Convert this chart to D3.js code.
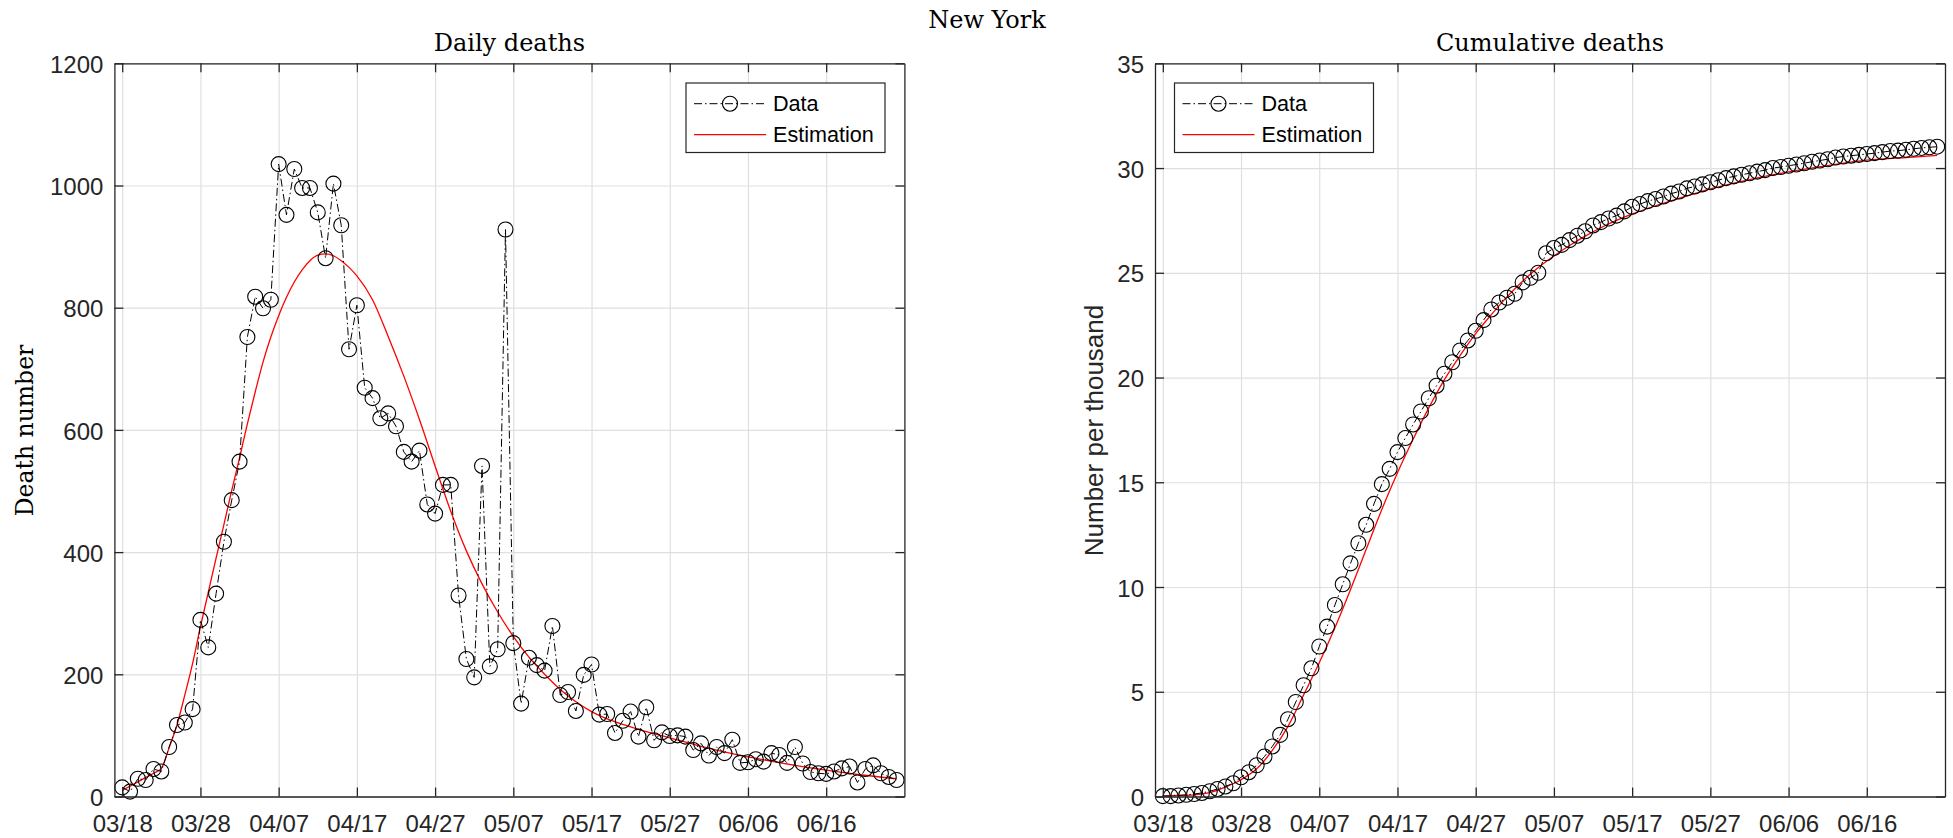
<!DOCTYPE html>
<html>
<head>
<meta charset="utf-8">
<script src="https://cdn.jsdelivr.net/npm/d3@7"></script>
<style>
body { margin: 0; background: #fff; }
</style>
</head>
<body>
<div id="chart"></div>
<script>
// first day of the series, one value per day after that
var startDay = "2020-03-18";

// daily deaths (03/18 .. 06/25)
var dailyDeaths = [
  15, 8, 29, 27, 45, 41, 81, 117, 121, 143,
  289, 244, 332, 417, 485, 548, 752, 818, 799, 813,
  1035, 952, 1027, 996, 996, 956, 881, 1003, 935, 732,
  804, 669, 652, 619, 627, 606, 564, 548, 566, 478,
  463, 510, 510, 329, 225, 195, 541, 213, 241, 928,
  251, 152, 227, 215, 206, 279, 166, 171, 140, 199,
  216, 134, 135, 104, 124, 139, 98, 146, 92, 105,
  99, 100, 98, 76, 87, 67, 81, 71, 93, 55,
  56, 61, 57, 71, 68, 55, 81, 54, 40, 38,
  37, 41, 46, 49, 23, 45, 51, 38, 32, 27
];

// cumulative deaths, number per thousand (03/18 .. 06/25)
var cumulativeDeaths = [
  0.02, 0.02, 0.05, 0.08, 0.12, 0.17, 0.25, 0.36, 0.48, 0.63,
  0.92, 1.16, 1.49, 1.91, 2.39, 2.94, 3.69, 4.51, 5.31, 6.12,
  7.16, 8.11, 9.14, 10.13, 11.13, 12.09, 12.97, 13.97, 14.91, 15.64,
  16.44, 17.11, 17.76, 18.38, 19.01, 19.61, 20.18, 20.73, 21.29, 21.77,
  22.23, 22.74, 23.25, 23.58, 23.81, 24.00, 24.54, 24.76, 25.00, 25.93,
  26.18, 26.33, 26.56, 26.77, 26.98, 27.26, 27.42, 27.59, 27.73, 27.93,
  28.15, 28.28, 28.42, 28.52, 28.64, 28.78, 28.88, 29.03, 29.12, 29.22,
  29.32, 29.42, 29.52, 29.60, 29.68, 29.75, 29.83, 29.90, 30.00, 30.05,
  30.11, 30.17, 30.23, 30.30, 30.36, 30.42, 30.50, 30.55, 30.59, 30.63,
  30.67, 30.71, 30.76, 30.81, 30.83, 30.87, 30.92, 30.96, 30.99, 31.02
];

// estimation curves, read at these day offsets from 03/18
var estDailyDay = [0, 1, 2, 3, 4, 5, 6, 7, 8, 9, 10, 11, 12, 13, 14, 15, 16, 17, 18, 19,
  20, 21, 22, 23, 24, 25, 26, 27, 28, 29, 30, 32, 34, 36, 38, 40, 42, 44, 46, 48,
  50, 52, 54, 56, 58, 60, 62, 64, 66, 70, 74, 78, 82, 86, 90, 94, 99];
var estDailyVal = [10, 17, 24, 31, 38, 46, 80, 117, 166, 218, 278, 334, 390, 445, 501, 554, 610, 662, 711, 752,
  787, 817, 842, 862, 877, 886, 888, 885, 877, 866, 852, 813, 753, 688, 617, 541, 467, 402, 348, 302,
  262, 228, 200, 175, 155, 139, 127, 118, 110, 96, 82, 70, 60, 51, 43, 36, 29];

var estCumDay = [0, 2, 4, 6, 8, 10, 12, 14, 16, 18, 20, 22, 24, 26, 28, 30, 32, 34, 36, 38,
  40, 42, 44, 46, 48, 50, 52, 54, 56, 58, 60, 63, 66, 70, 75, 80, 85, 90, 95, 99];
var estCumVal = [0.03, 0.05, 0.08, 0.19, 0.45, 0.8, 1.32, 2.2, 3.35, 4.85, 6.38, 8.05, 9.88, 11.8, 13.7, 15.45, 17.05, 18.55, 19.9, 21.05,
  22.1, 23.0, 23.85, 24.6, 25.25, 25.8, 26.3, 26.75, 27.15, 27.5, 27.8, 28.2, 28.55, 29.0, 29.45, 29.82, 30.12, 30.38, 30.5, 30.6];

var xTickLabels = ["03/18", "03/28", "04/07", "04/17", "04/27", "05/07", "05/17", "05/27", "06/06", "06/16"];
var dailyTicks = [0, 200, 400, 600, 800, 1000, 1200];
var cumTicks = [0, 5, 10, 15, 20, 25, 30, 35];

var W = 1953, H = 838;
var plotTop = 63.3, plotH = 733.2, plotW = 790;
var sansFont = "'Liberation Sans', Arial, sans-serif";
var serifFont = "'DejaVu Serif', serif";
var axisColor = "#262626";

var svg = d3.select("#chart")
  .append("svg")
  .attr("width", W)
  .attr("height", H)
  .style("background", "#fff");

var start = d3.utcParse("%Y-%m-%d")(startDay);
var dayAt = function(i) { return d3.utcDay.offset(start, i); };
var parseTick = d3.utcParse("%Y/%m/%d");
var tickDates = xTickLabels.map(function(s) { return parseTick("2020/" + s); });

var x = d3.scaleUtc()
  .domain([d3.utcDay.offset(start, -1), d3.utcDay.offset(start, 100)])
  .range([0, plotW]);

svg.append("text")
  .attr("x", 987)
  .attr("y", 28)
  .attr("text-anchor", "middle")
  .style("font-family", serifFont)
  .style("font-size", "24px")
  .style("fill", "#000")
  .text("New York");

function drawPanel(opt) {
  var g = svg.append("g")
    .attr("transform", "translate(" + opt.left + "," + plotTop + ")");

  var y = d3.scaleLinear().domain(opt.yDomain).range([plotH, 0]);

  // grid
  g.append("g")
    .attr("class", "grid")
    .call(d3.axisBottom(x).tickValues(tickDates).tickSize(plotH).tickFormat(""))
    .call(function(s) { s.select(".domain").remove(); });
  g.append("g")
    .attr("class", "grid")
    .call(d3.axisLeft(y).tickValues(opt.yTicks).tickSize(-plotW).tickFormat(""))
    .call(function(s) { s.select(".domain").remove(); });
  g.selectAll(".grid line")
    .attr("stroke", "#dfdfdf")
    .attr("stroke-width", 1.2);

  // estimation
  g.append("path")
    .datum(opt.estDay.map(function(d, i) { return [d, opt.estVal[i]]; }))
    .attr("fill", "none")
    .attr("stroke", "#ff0000")
    .attr("stroke-width", 1.3)
    .attr("d", d3.line()
      .curve(d3.curveMonotoneX)
      .x(function(d) { return x(dayAt(d[0])); })
      .y(function(d) { return y(d[1]); })
    );

  // data
  g.append("path")
    .datum(opt.data)
    .attr("fill", "none")
    .attr("stroke", "#000")
    .attr("stroke-width", 1)
    .attr("stroke-dasharray", "8,3,1.5,3")
    .attr("d", d3.line()
      .x(function(d, i) { return x(dayAt(i)); })
      .y(function(d) { return y(d); })
    );

  g.append("g")
    .selectAll("circle")
    .data(opt.data)
    .enter()
    .append("circle")
      .attr("cx", function(d, i) { return x(dayAt(i)); })
      .attr("cy", function(d) { return y(d); })
      .attr("r", 7.5)
      .attr("fill", "none")
      .attr("stroke", "#000")
      .attr("stroke-width", 1.1);

  // axes, box with inward ticks on all sides
  g.append("g")
    .attr("transform", "translate(0," + plotH + ")")
    .call(d3.axisBottom(x).tickValues(tickDates).tickFormat(d3.utcFormat("%m/%d"))
      .tickSizeInner(-9).tickSizeOuter(0).tickPadding(18));
  var left = g.append("g")
    .call(d3.axisLeft(y).tickValues(opt.yTicks).tickFormat(d3.format("d"))
      .tickSizeInner(-9).tickSizeOuter(0).tickPadding(11));
  g.append("g")
    .call(d3.axisTop(x).tickValues(tickDates).tickFormat("").tickSizeInner(-9).tickSizeOuter(0));
  g.append("g")
    .attr("transform", "translate(" + plotW + ",0)")
    .call(d3.axisRight(y).tickValues(opt.yTicks).tickFormat("").tickSizeInner(-9).tickSizeOuter(0));

  g.selectAll("g:not(.grid) > .domain").attr("stroke", axisColor).attr("stroke-width", 1.3);
  g.selectAll("g:not(.grid) > .tick line").attr("stroke", axisColor).attr("stroke-width", 1.3);
  g.selectAll("g:not(.grid) > .tick text")
    .style("font-family", sansFont)
    .style("font-size", "24px")
    .attr("fill", axisColor);
  left.selectAll(".tick text").attr("y", 1.5);

  // title
  g.append("text")
    .attr("x", plotW / 2)
    .attr("y", 50.7 - plotTop)
    .attr("text-anchor", "middle")
    .style("font-family", serifFont)
    .style("font-size", "24px")
    .style("fill", "#000")
    .text(opt.title);

  // y label
  g.append("text")
    .attr("transform", "rotate(-90)")
    .attr("x", -(430.5 - plotTop))
    .attr("y", opt.yLabelX - opt.left)
    .attr("text-anchor", "middle")
    .style("font-family", opt.yLabelFont)
    .style("font-size", opt.yLabelSize)
    .style("fill", opt.yLabelFont === sansFont ? axisColor : "#000")
    .text(opt.yLabel);

  // legend
  var lg = g.append("g")
    .attr("transform", "translate(" + opt.legendX + "," + 19.7 + ")");
  lg.append("rect")
    .attr("width", 199)
    .attr("height", 69.5)
    .attr("fill", "#fff")
    .attr("stroke", axisColor)
    .attr("stroke-width", 1.2);
  lg.append("line")
    .attr("x1", 8).attr("x2", 80)
    .attr("y1", 20.7).attr("y2", 20.7)
    .attr("stroke", "#000")
    .attr("stroke-dasharray", "8,3,1.5,3");
  lg.append("circle")
    .attr("cx", 44).attr("cy", 20.7).attr("r", 7.5)
    .attr("fill", "none").attr("stroke", "#000").attr("stroke-width", 1.1);
  lg.append("line")
    .attr("x1", 8).attr("x2", 80)
    .attr("y1", 51.7).attr("y2", 51.7)
    .attr("stroke", "#ff0000")
    .attr("stroke-width", 1.3);
  lg.selectAll("text.lbl")
    .data(["Data", "Estimation"])
    .enter()
    .append("text")
      .attr("class", "lbl")
      .attr("x", 87)
      .attr("y", function(d, i) { return 20.7 + i * 31; })
      .attr("dy", "0.35em")
      .style("font-family", sansFont)
      .style("font-size", "21.6px")
      .style("fill", "#000")
      .text(function(d) { return d; });
}

drawPanel({
  left: 114.4,
  yDomain: [0, 1200],
  yTicks: dailyTicks,
  data: dailyDeaths,
  estDay: estDailyDay,
  estVal: estDailyVal,
  title: "Daily deaths",
  yLabel: "Death number",
  yLabelX: 33,
  yLabelFont: serifFont,
  yLabelSize: "23.5px",
  legendX: plotW - 19.4 - 199
});

drawPanel({
  left: 1155,
  yDomain: [0, 35],
  yTicks: cumTicks,
  data: cumulativeDeaths,
  estDay: estCumDay,
  estVal: estCumVal,
  title: "Cumulative deaths",
  yLabel: "Number per thousand",
  yLabelX: 1103,
  yLabelFont: sansFont,
  yLabelSize: "26px",
  legendX: 19.5
});
</script>
</body>
</html>
